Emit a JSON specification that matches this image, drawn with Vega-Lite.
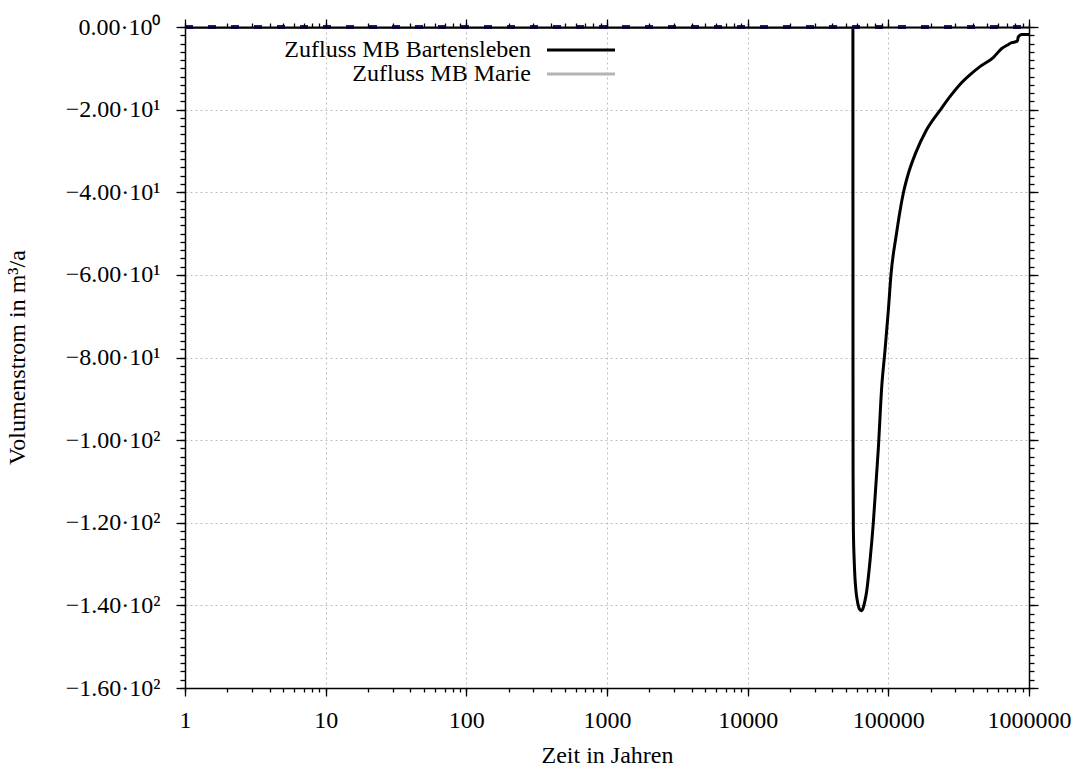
{
  "$schema": "https://vega.github.io/schema/vega-lite/v6.json",
  "width": 844,
  "height": 661,
  "autosize": {"type": "none"},
  "padding": {"left": 185, "top": 27, "right": 45, "bottom": 79},
  "background": "white",
  "config": {
    "font": "Liberation Serif",
    "view": {"stroke": null},
    "axis": {
      "domainColor": "#000000",
      "domainWidth": 1.5,
      "tickColor": "#000000",
      "tickWidth": 1.3,
      "labelFont": "Liberation Serif",
      "labelFontSize": 24,
      "labelColor": "#000000",
      "titleFont": "Liberation Serif",
      "titleFontSize": 24,
      "titleFontWeight": "normal",
      "titleColor": "#000000",
      "gridColor": "#bdbdbd",
      "gridDash": [2, 3],
      "gridWidth": 1,
      "labelOverlap": false,
      "labelFlush": false
    }
  },
  "datasets": {
    "bart": [
      {"t": 1, "v": 0, "series": "Zufluss MB Bartensleben"},
      {"t": 1000, "v": 0, "series": "Zufluss MB Bartensleben"},
      {"t": 56000, "v": 0, "series": "Zufluss MB Bartensleben"},
      {"t": 56030, "v": -40, "series": "Zufluss MB Bartensleben"},
      {"t": 56080, "v": -80, "series": "Zufluss MB Bartensleben"},
      {"t": 56150, "v": -108, "series": "Zufluss MB Bartensleben"},
      {"t": 56400, "v": -121, "series": "Zufluss MB Bartensleben"},
      {"t": 57100, "v": -128.5, "series": "Zufluss MB Bartensleben"},
      {"t": 57900, "v": -133.3, "series": "Zufluss MB Bartensleben"},
      {"t": 59000, "v": -136.8, "series": "Zufluss MB Bartensleben"},
      {"t": 60200, "v": -138.9, "series": "Zufluss MB Bartensleben"},
      {"t": 62100, "v": -140.8, "series": "Zufluss MB Bartensleben"},
      {"t": 64000, "v": -141.3, "series": "Zufluss MB Bartensleben"},
      {"t": 66400, "v": -140.5, "series": "Zufluss MB Bartensleben"},
      {"t": 68300, "v": -138.8, "series": "Zufluss MB Bartensleben"},
      {"t": 70200, "v": -136.5, "series": "Zufluss MB Bartensleben"},
      {"t": 74100, "v": -129.2, "series": "Zufluss MB Bartensleben"},
      {"t": 78200, "v": -120, "series": "Zufluss MB Bartensleben"},
      {"t": 81500, "v": -111, "series": "Zufluss MB Bartensleben"},
      {"t": 84900, "v": -102, "series": "Zufluss MB Bartensleben"},
      {"t": 89700, "v": -87.2, "series": "Zufluss MB Bartensleben"},
      {"t": 94700, "v": -78.3, "series": "Zufluss MB Bartensleben"},
      {"t": 100000, "v": -68.6, "series": "Zufluss MB Bartensleben"},
      {"t": 104400, "v": -60, "series": "Zufluss MB Bartensleben"},
      {"t": 114300, "v": -50, "series": "Zufluss MB Bartensleben"},
      {"t": 120400, "v": -45, "series": "Zufluss MB Bartensleben"},
      {"t": 128200, "v": -40, "series": "Zufluss MB Bartensleben"},
      {"t": 138700, "v": -35.5, "series": "Zufluss MB Bartensleben"},
      {"t": 156000, "v": -30.6, "series": "Zufluss MB Bartensleben"},
      {"t": 186200, "v": -25, "series": "Zufluss MB Bartensleben"},
      {"t": 234900, "v": -20, "series": "Zufluss MB Bartensleben"},
      {"t": 275000, "v": -16.8, "series": "Zufluss MB Bartensleben"},
      {"t": 323000, "v": -13.9, "series": "Zufluss MB Bartensleben"},
      {"t": 380000, "v": -11.6, "series": "Zufluss MB Bartensleben"},
      {"t": 448000, "v": -9.6, "series": "Zufluss MB Bartensleben"},
      {"t": 557000, "v": -7.4, "series": "Zufluss MB Bartensleben"},
      {"t": 640000, "v": -5.2, "series": "Zufluss MB Bartensleben"},
      {"t": 700000, "v": -4.4, "series": "Zufluss MB Bartensleben"},
      {"t": 753000, "v": -3.8, "series": "Zufluss MB Bartensleben"},
      {"t": 818000, "v": -3.5, "series": "Zufluss MB Bartensleben"},
      {"t": 830000, "v": -3.2, "series": "Zufluss MB Bartensleben"},
      {"t": 839000, "v": -2.4, "series": "Zufluss MB Bartensleben"},
      {"t": 887000, "v": -1.8, "series": "Zufluss MB Bartensleben"},
      {"t": 1000000, "v": -1.8, "series": "Zufluss MB Bartensleben"}
    ],
    "marie": [
      {"t": 1, "v": 0, "series": "Zufluss MB Marie"},
      {"t": 1000000, "v": 0, "series": "Zufluss MB Marie"}
    ],
    "blue": [
      {"t": 1, "v": 0},
      {"t": 1000000, "v": 0}
    ]
  },
  "layer": [
    {
      "data": {"name": "marie"},
      "mark": {"type": "line", "strokeWidth": 3, "clip": true},
      "encoding": {
        "x": {
          "field": "t", "type": "quantitative",
          "scale": {"type": "log", "domain": [1, 1000000], "nice": false},
          "axis": {
            "orient": "top", "title": null, "labels": false, "grid": false, "domain": true, "tickSize": 4, "zindex": 1, "domainWidth": 2,
            "values": [1,2,3,4,5,6,7,8,9,10,20,30,40,50,60,70,80,90,100,200,300,400,500,600,700,800,900,1000,2000,3000,4000,5000,6000,7000,8000,9000,10000,20000,30000,40000,50000,60000,70000,80000,90000,100000,200000,300000,400000,500000,600000,700000,800000,900000,1000000]
          }
        },
        "y": {
          "field": "v", "type": "quantitative",
          "scale": {"domain": [-160, 0], "nice": false, "zero": false},
          "axis": {
            "orient": "right", "title": null, "labels": false, "grid": false, "domain": true, "tickSize": 5,
            "values": [-160,-158,-156,-154,-152,-150,-148,-146,-144,-142,-140,-138,-136,-134,-132,-130,-128,-126,-124,-122,-120,-118,-116,-114,-112,-110,-108,-106,-104,-102,-100,-98,-96,-94,-92,-90,-88,-86,-84,-82,-80,-78,-76,-74,-72,-70,-68,-66,-64,-62,-60,-58,-56,-54,-52,-50,-48,-46,-44,-42,-40,-38,-36,-34,-32,-30,-28,-26,-24,-22,-20,-18,-16,-14,-12,-10,-8,-6,-4,-2,0]
          }
        },
        "color": {
          "field": "series", "type": "nominal",
          "scale": {"domain": ["Zufluss MB Bartensleben", "Zufluss MB Marie"], "range": ["#000000", "#b4b4b4"]},
          "legend": {
            "orient": "none", "legendX": 384, "legendY": 11, "title": null, "padding": 0,
            "symbolType": "M-4,0H4", "symbolSize": 289, "symbolStrokeWidth": 3, "symbolFillColor": "transparent",
            "labelAlign": "right", "labelOffset": -62, "labelFontSize": 24, "labelFont": "Liberation Serif",
            "labelColor": "#000000", "labelLimit": 600, "rowPadding": -3
          }
        }
      }
    },
    {
      "data": {"name": "bart"},
      "mark": {"type": "line", "strokeWidth": 3, "clip": true, "interpolate": "monotone"},
      "encoding": {
        "x": {
          "field": "t", "type": "quantitative",
          "scale": {"type": "log", "domain": [1, 1000000], "nice": false},
          "axis": {
            "orient": "bottom", "title": "Zeit in Jahren", "grid": true, "tickSize": 8, "labelPadding": 12,
            "values": [1, 10, 100, 1000, 10000, 100000, 1000000],
            "labelExpr": "format(datum.value, 'd')",
            "titleX": 422, "titleY": 67, "titleBaseline": "middle"
          }
        },
        "y": {
          "field": "v", "type": "quantitative",
          "scale": {"domain": [-160, 0], "nice": false, "zero": false},
          "axis": {
            "orient": "left", "title": "Volumenstrom in m³/a", "grid": true, "tickSize": 9, "labelPadding": 16,
            "values": [-160, -140, -120, -100, -80, -60, -40, -20, 0],
            "labelExpr": "datum.value == 0 ? '0.00·10⁰' : '−' + format(abs(datum.value) >= 100 ? abs(datum.value) / 100 : abs(datum.value) / 10, '.2f') + (abs(datum.value) >= 100 ? '·10²' : '·10¹')",
            "titleX": -168, "titleY": 330, "titleAngle": -90, "titleBaseline": "middle", "titleAlign": "center"
          }
        },
        "color": {
          "field": "series", "type": "nominal",
          "scale": {"domain": ["Zufluss MB Bartensleben", "Zufluss MB Marie"], "range": ["#000000", "#b4b4b4"]},
          "legend": {
            "orient": "none", "legendX": 384, "legendY": 11, "title": null, "padding": 0,
            "symbolType": "M-4,0H4", "symbolSize": 289, "symbolStrokeWidth": 3, "symbolFillColor": "transparent",
            "labelAlign": "right", "labelOffset": -62, "labelFontSize": 24, "labelFont": "Liberation Serif",
            "labelColor": "#000000", "labelLimit": 600, "rowPadding": -3
          }
        }
      }
    },
    {
      "data": {"name": "blue"},
      "mark": {"type": "line", "strokeWidth": 4, "color": "#1c1c8c", "strokeDash": [8, 15]},
      "encoding": {
        "x": {
          "field": "t", "type": "quantitative",
          "scale": {"type": "log", "domain": [1, 1000000], "nice": false},
          "axis": {
            "orient": "bottom", "title": null, "labels": false, "grid": false, "domain": false, "tickSize": 4,
            "values": [1,2,3,4,5,6,7,8,9,10,20,30,40,50,60,70,80,90,100,200,300,400,500,600,700,800,900,1000,2000,3000,4000,5000,6000,7000,8000,9000,10000,20000,30000,40000,50000,60000,70000,80000,90000,100000,200000,300000,400000,500000,600000,700000,800000,900000,1000000]
          }
        },
        "y": {
          "field": "v", "type": "quantitative",
          "scale": {"domain": [-160, 0], "nice": false, "zero": false},
          "axis": {
            "orient": "left", "title": null, "labels": false, "grid": false, "domain": false, "tickSize": 5,
            "values": [-160,-158,-156,-154,-152,-150,-148,-146,-144,-142,-140,-138,-136,-134,-132,-130,-128,-126,-124,-122,-120,-118,-116,-114,-112,-110,-108,-106,-104,-102,-100,-98,-96,-94,-92,-90,-88,-86,-84,-82,-80,-78,-76,-74,-72,-70,-68,-66,-64,-62,-60,-58,-56,-54,-52,-50,-48,-46,-44,-42,-40,-38,-36,-34,-32,-30,-28,-26,-24,-22,-20,-18,-16,-14,-12,-10,-8,-6,-4,-2,0]
          }
        }
      }
    },
    {
      "data": {"name": "blue"},
      "mark": {"type": "line", "opacity": 0},
      "encoding": {
        "x": {
          "field": "t", "type": "quantitative",
          "scale": {"type": "log", "domain": [1, 1000000], "nice": false},
          "axis": {
            "orient": "top", "title": null, "labels": false, "grid": false, "domain": false, "tickSize": 8,
            "values": [1, 10, 100, 1000, 10000, 100000, 1000000]
          }
        },
        "y": {
          "field": "v", "type": "quantitative",
          "scale": {"domain": [-160, 0], "nice": false, "zero": false},
          "axis": {
            "orient": "right", "title": null, "labels": false, "grid": false, "domain": false, "tickSize": 9,
            "values": [-160, -140, -120, -100, -80, -60, -40, -20, 0]
          }
        }
      }
    }
  ],
  "resolve": {
    "scale": {"x": "shared", "y": "shared", "color": "shared"},
    "axis": {"x": "independent", "y": "independent"}
  }
}
